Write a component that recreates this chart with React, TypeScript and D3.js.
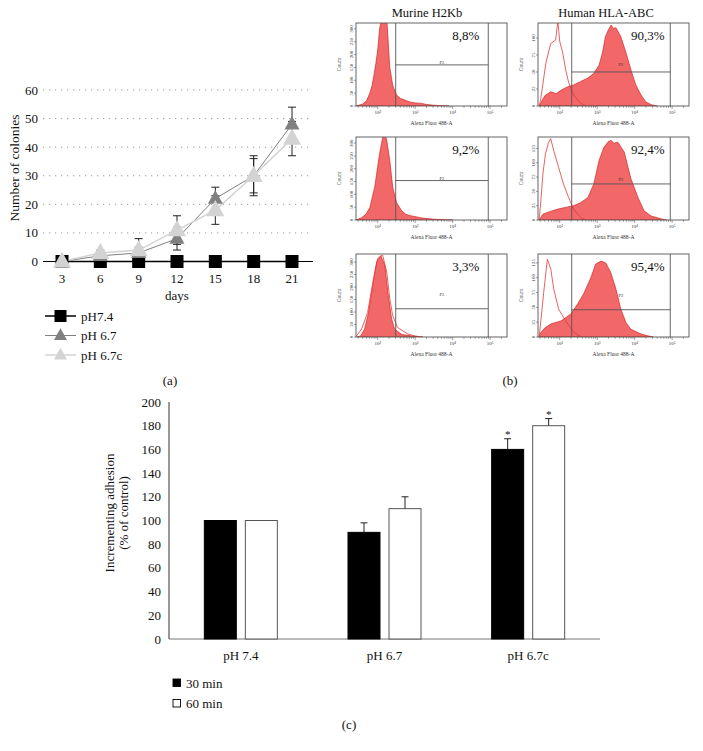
import React from "react";
import * as d3 from "d3";

// ---------- Panel (a) data ----------
const days = ["3", "6", "9", "12", "15", "18", "21"];
const ph74 = [0, 0, 0, 0, 0, 0, 0];
const ph67 = [0, 2, 3, 8, 22, 30, 48];
const ph67Err = [0, 1, 2, 4, 4, 6, 6];
const ph67c = [0, 3, 4, 11, 18, 30, 43];
const ph67cErr = [0, 1, 4, 5, 5, 7, 6];
const colonyTicks = [0, 10, 20, 30, 40, 50, 60];
const legendA = ["pH7.4", "pH 6.7", "pH 6.7c"];

// ---------- Panel (b) data: [log10 fluorescence, count] ----------
const murine1: [number, number][] = [[1.42,0],[1.5,3],[1.6,8],[1.7,20],[1.79,50],[1.85,80],[1.9,120],[1.95,165],[2.0,218],[2.05,300],[2.1,340],[2.15,345],[2.2,340],[2.25,320],[2.32,152],[2.4,80],[2.5,43],[2.6,30],[2.72,23],[2.85,16],[3.0,12],[3.17,10],[3.3,6],[3.5,3],[3.7,1],[3.9,0]];
const murine2: [number, number][] = [[1.42,0],[1.57,9],[1.7,25],[1.79,49],[1.92,128],[2.05,260],[2.13,320],[2.18,340],[2.24,312],[2.32,233],[2.4,128],[2.5,68],[2.64,36],[2.75,22],[2.9,16],[3.17,8],[3.5,3],[3.8,1],[4.0,0]];
const murine3: [number, number][] = [[1.45,0],[1.55,5],[1.65,32],[1.75,95],[1.84,180],[1.97,300],[2.08,325],[2.19,287],[2.27,180],[2.37,73],[2.45,32],[2.64,10],[2.97,3],[3.2,0]];
const murine3b: [number, number][] = [[1.42,2],[1.57,32],[1.73,98],[1.87,220],[2.0,315],[2.13,328],[2.24,260],[2.32,154],[2.4,85],[2.53,38],[2.8,12],[3.0,4],[3.2,0]];
const human1: [number, number][] = [[1.45,0],[1.49,4],[1.6,15],[1.76,21],[1.9,18],[2.03,23],[2.2,28],[2.37,31],[2.56,36],[2.75,41],[2.91,48],[3.05,60],[3.14,78],[3.22,102],[3.3,112],[3.37,119],[3.43,114],[3.5,115],[3.63,102],[3.77,78],[3.9,53],[4.03,31],[4.17,16],[4.3,6],[4.44,2],[4.6,0]];
const human1u: [number, number][] = [[1.45,0],[1.49,9],[1.63,63],[1.76,92],[1.89,97],[1.95,125],[2.0,95],[2.08,78],[2.16,53],[2.24,34],[2.37,16],[2.56,4],[2.7,0]];
const human2: [number, number][] = [[1.45,0],[1.55,10],[1.75,15],[1.95,19],[2.15,22],[2.37,25],[2.55,30],[2.75,39],[2.91,63],[3.05,104],[3.18,127],[3.3,137],[3.37,139],[3.45,134],[3.55,136],[3.72,119],[3.9,72],[4.09,39],[4.25,16],[4.44,7],[4.7,2],[4.85,0]];
const human2u: [number, number][] = [[1.45,0],[1.49,28],[1.55,80],[1.62,116],[1.7,135],[1.76,142],[1.84,121],[1.97,92],[2.1,63],[2.24,39],[2.37,19],[2.56,4],[2.7,0]];
const human3: [number, number][] = [[1.45,0],[1.49,7],[1.6,15],[1.76,22],[2.03,27],[2.3,39],[2.48,56],[2.64,73],[2.83,100],[2.96,123],[3.1,128],[3.23,125],[3.36,109],[3.5,81],[3.63,47],[3.77,24],[3.9,13],[4.17,5],[4.35,2],[4.5,0]];
const human3u: [number, number][] = [[1.45,0],[1.5,30],[1.57,74],[1.67,131],[1.76,115],[1.84,81],[1.97,47],[2.16,27],[2.35,10],[2.48,3],[2.6,0]];

const murineFilled = [murine1, murine2, murine3];
const murineOutline = [null, null, murine3b];
const humanFilled = [human1, human2, human3];
const humanOutline = [human1u, human2u, human3u];
const murinePct = ["8,8%", "9,2%", "3,3%"];
const humanPct = ["90,3%", "92,4%", "95,4%"];
const murineMax = [323, 324, 332];
const humanMax = [122, 145, 140];
const murineGate = [160, 154, 113];
const humanGate = [50, 63, 46];
const murineP2 = [160, 154, 160];
const humanP2 = [57, 67, 66];
const murineGateLeft = 2.48;
const humanGateLeft = 2.32;
const gateRight = 4.95;
const murineTicks = [0, 50, 100, 150, 200, 250, 300];
const humanTicks = [0, 25, 50, 75, 100, 125];
const logDomain = [1.42, 5.45];
const decadeLabels = ["10²", "10³", "10⁴", "10⁵"];
const decades = [2, 3, 4, 5];

// ---------- Panel (c) data ----------
const adhesionGroups = ["pH 7.4", "pH 6.7", "pH 6.7c"];
const adhesion30 = [100, 90, 160];
const adhesion30Err = [0, 8, 9];
const adhesion60 = [100, 110, 180];
const adhesion60Err = [0, 10, 6];
const adhesionSig = [false, false, true];
const adhesionTicks = [0, 20, 40, 60, 80, 100, 120, 140, 160, 180, 200];
const legendC = ["30 min", "60 min"];

const FONT = "Liberation Serif, Times New Roman, Tinos, Times, serif";

function tri(cx: number, cy: number, s: number) {
  const h = s * 0.9;
  return `M${cx},${cy - h * 0.62} L${cx + s / 2},${cy + h * 0.38} L${cx - s / 2},${cy + h * 0.38} Z`;
}

function Facs(props: {
  id: string; x0: number; y0: number; w: number; h: number;
  filled: [number, number][]; outline: [number, number][] | null;
  yMax: number; ticks: number[]; gateLeft: number; gateCount: number;
  p2Count: number; pct: string;
}) {
  const { id, x0, y0, w, h, filled, outline, yMax, ticks, gateLeft, gateCount, p2Count, pct } = props;
  const xs = d3.scaleLinear().domain(logDomain).range([x0, x0 + w]);
  const ys = d3.scaleLinear().domain([0, yMax]).range([y0 + h, y0]);
  const area = d3.area<[number, number]>().x(d => xs(d[0])).y0(y0 + h).y1(d => ys(d[1]));
  const line = d3.line<[number, number]>().x(d => xs(d[0])).y(d => ys(d[1]));
  const minor: { v: number; major: boolean }[] = [];
  for (let d = 1; d <= 5; d++) {
    for (let m = 1; m <= 9; m++) {
      const v = d + Math.log10(m);
      if (v >= logDomain[0] && v <= logDomain[1]) minor.push({ v, major: m === 1 });
    }
  }
  return (
    <g>
      <defs>
        <clipPath id={id}><rect x={x0} y={y0} width={w} height={h} /></clipPath>
      </defs>
      <g clipPath={`url(#${id})`}>
        <path d={area(filled) || ""} fill="#f26868" stroke="#d42424" strokeWidth={0.7} />
        {outline && <path d={line(outline) || ""} fill="none" stroke="#e23a3a" strokeWidth={0.8} />}
      </g>
      <rect x={x0} y={y0} width={w} height={h} fill="none" stroke="#555" strokeWidth={0.9} />
      <line x1={xs(gateLeft)} x2={xs(gateLeft)} y1={y0} y2={y0 + h} stroke="#555" strokeWidth={0.9} />
      <line x1={xs(gateRight)} x2={xs(gateRight)} y1={y0} y2={y0 + h} stroke="#555" strokeWidth={0.9} />
      <line x1={xs(gateLeft)} x2={xs(gateRight)} y1={ys(gateCount)} y2={ys(gateCount)} stroke="#555" strokeWidth={0.9} />
      <text x={(xs(gateLeft) + xs(gateRight)) / 2} y={ys(p2Count) - 1} fontSize={4.5} textAnchor="middle" fill="#333">P2</text>
      <text x={xs(4.35)} y={y0 + 17} fontSize={13} textAnchor="middle" fill="#111">{pct}</text>
      {minor.map((t, i) => (
        <line key={i} x1={xs(t.v)} x2={xs(t.v)} y1={y0 + h} y2={y0 + h + (t.major ? 3 : 1.8)} stroke="#444" strokeWidth={0.5} />
      ))}
      {decades.map((d, i) => (
        <text key={d} x={xs(d)} y={y0 + h + 8} fontSize={5} textAnchor="middle" fill="#333">{decadeLabels[i]}</text>
      ))}
      {ticks.filter(t => t <= yMax).map(t => (
        <g key={t}>
          <line x1={x0 - 2} x2={x0} y1={ys(t)} y2={ys(t)} stroke="#444" strokeWidth={0.5} />
          <text transform={`translate(${x0 - 3},${ys(t)}) rotate(-90)`} fontSize={5} textAnchor="middle" fill="#333">{t}</text>
        </g>
      ))}
      <text transform={`translate(${x0 - 15},${y0 + h / 2}) rotate(-90)`} fontSize={5.5} textAnchor="middle" fill="#333">Count</text>
      <text x={x0 + w / 2} y={y0 + h + 19} fontSize={5.5} textAnchor="middle" fill="#333">Alexa Fluor 488-A</text>
    </g>
  );
}

export default function App() {
  // Panel (a)
  const xa = d3.scalePoint<string>().domain(days).range([62, 292]);
  const ya = d3.scaleLinear().domain([0, 60]).range([261.5, 90]);
  const lineA = d3.line<number>().x((_, i) => xa(days[i]) as number).y(d => ya(d));
  const seriesA = [
    { name: legendA[0], vals: ph74, err: null as number[] | null, color: "#000", lw: 1.5, marker: "sq", size: 13 },
    { name: legendA[1], vals: ph67, err: ph67Err, color: "#808080", lw: 1, marker: "tri", size: 15 },
    { name: legendA[2], vals: ph67c, err: ph67cErr, color: "#d3d3d3", lw: 1.5, marker: "tri", size: 18 },
  ];

  // Panel (c)
  const xc = d3.scaleBand<string>().domain(adhesionGroups).range([169, 600]);
  const yc = d3.scaleLinear().domain([0, 200]).range([639, 402]);
  const inner = d3.scaleBand<string>().domain(legendC).range([-36.5, 36.5]).paddingInner(0.22);
  const barSeries = [
    { key: legendC[0], vals: adhesion30, err: adhesion30Err, fill: "#000", stroke: "#000" },
    { key: legendC[1], vals: adhesion60, err: adhesion60Err, fill: "#fff", stroke: "#555" },
  ];

  const colX = [356, 538];
  const rowY = [23, 137, 254];
  const boxW = 151;
  const boxH = 83;

  return (
    <svg width={703} height={751} style={{ position: "absolute", left: 0, top: 0, background: "#fff", fontFamily: FONT }}>
      <rect width={703} height={751} fill="#fff" />
      {/* ---------- Panel (a) ---------- */}
      {colonyTicks.map(t => (
        <g key={t}>
          {t > 0 && <line x1={43} x2={311} y1={ya(t)} y2={ya(t)} stroke="#9a9a9a" strokeWidth={1} strokeDasharray="1.2,4.8" />}
          <text x={38} y={ya(t) + 4.5} fontSize={13} textAnchor="end" fill="#111">{t}</text>
        </g>
      ))}
      <line x1={43} x2={313} y1={ya(0)} y2={ya(0)} stroke="#000" strokeWidth={1.2} />
      {days.map(d => (
        <text key={d} x={xa(d)} y={283} fontSize={13} textAnchor="middle" fill="#111">{d}</text>
      ))}
      <text x={177} y={300} fontSize={13} textAnchor="middle" fill="#111">days</text>
      <text transform="translate(19,168) rotate(-90)" fontSize={13.5} textAnchor="middle" fill="#111">Number of colonies</text>
      {seriesA.map(s => (
        <g key={s.name}>
          <path d={lineA(s.vals) || ""} fill="none" stroke={s.color} strokeWidth={s.lw} />
        </g>
      ))}
      {seriesA.map(s => s.err && (
        <g key={s.name + "e"}>
          {s.vals.map((v, i) => s.err![i] > 0 && (
            <g key={i} stroke="#222" strokeWidth={1}>
              <line x1={xa(days[i])} x2={xa(days[i])} y1={ya(v + s.err![i])} y2={ya(v - s.err![i])} />
              <line x1={(xa(days[i]) as number) - 4} x2={(xa(days[i]) as number) + 4} y1={ya(v + s.err![i])} y2={ya(v + s.err![i])} />
              <line x1={(xa(days[i]) as number) - 4} x2={(xa(days[i]) as number) + 4} y1={ya(v - s.err![i])} y2={ya(v - s.err![i])} />
            </g>
          ))}
        </g>
      ))}
      {seriesA.map(s => (
        <g key={s.name + "m"}>
          {s.vals.map((v, i) => {
            const cx = xa(days[i]) as number;
            const cy = ya(v);
            return s.marker === "sq"
              ? <rect key={i} x={cx - s.size / 2} y={cy - s.size / 2} width={s.size} height={s.size} fill={s.color} />
              : <path key={i} d={tri(cx, cy, s.size)} fill={s.color} />;
          })}
        </g>
      ))}
      {seriesA.map((s, i) => {
        const ly = 316 + i * 19.5;
        return (
          <g key={s.name + "l"}>
            <line x1={45} x2={76} y1={ly} y2={ly} stroke={s.color} strokeWidth={s.lw} />
            {s.marker === "sq"
              ? <rect x={60.5 - 6} y={ly - 6} width={12} height={12} fill={s.color} />
              : <path d={tri(60.5, ly, 13)} fill={s.color} />}
            <text x={81} y={ly + 4.5} fontSize={13} fill="#111">{s.name}</text>
          </g>
        );
      })}
      <text x={170} y={385} fontSize={13} textAnchor="middle" fill="#111">(a)</text>

      {/* ---------- Panel (b) ---------- */}
      <text x={427} y={17} fontSize={12.5} textAnchor="middle" fill="#111">Murine H2Kb</text>
      <text x={606} y={17} fontSize={12.5} textAnchor="middle" fill="#111">Human HLA-ABC</text>
      {rowY.map((ry, r) => (
        <g key={r}>
          <Facs id={`m${r}`} x0={colX[0]} y0={ry} w={boxW} h={boxH} filled={murineFilled[r]} outline={murineOutline[r]}
            yMax={murineMax[r]} ticks={murineTicks} gateLeft={murineGateLeft} gateCount={murineGate[r]} p2Count={murineP2[r]} pct={murinePct[r]} />
          <Facs id={`h${r}`} x0={colX[1]} y0={ry} w={boxW} h={boxH} filled={humanFilled[r]} outline={humanOutline[r]}
            yMax={humanMax[r]} ticks={humanTicks} gateLeft={humanGateLeft} gateCount={humanGate[r]} p2Count={humanP2[r]} pct={humanPct[r]} />
        </g>
      ))}
      <text x={510} y={385} fontSize={13} textAnchor="middle" fill="#111">(b)</text>

      {/* ---------- Panel (c) ---------- */}
      {adhesionTicks.map(t => (
        <text key={t} x={161} y={yc(t) + 4.5} fontSize={13} textAnchor="end" fill="#111">{t}</text>
      ))}
      <line x1={169} x2={169} y1={yc(200)} y2={yc(0)} stroke="#333" strokeWidth={1} />
      <line x1={169} x2={600} y1={yc(0)} y2={yc(0)} stroke="#777" strokeWidth={1} />
      {adhesionGroups.map((g, gi) => {
        const center = (xc(g) as number) + xc.bandwidth() / 2;
        return (
          <g key={g}>
            {barSeries.map(s => {
              const bx = center + (inner(s.key) as number);
              const bw = inner.bandwidth();
              const v = s.vals[gi];
              const e = s.err[gi];
              return (
                <g key={s.key}>
                  <rect x={bx} y={yc(v)} width={bw} height={yc(0) - yc(v)} fill={s.fill} stroke={s.stroke} strokeWidth={1} />
                  {e > 0 && (
                    <g stroke="#222" strokeWidth={1}>
                      <line x1={bx + bw / 2} x2={bx + bw / 2} y1={yc(v)} y2={yc(v + e)} />
                      <line x1={bx + bw / 2 - 3.5} x2={bx + bw / 2 + 3.5} y1={yc(v + e)} y2={yc(v + e)} />
                    </g>
                  )}
                  {adhesionSig[gi] && (
                    <text x={bx + bw / 2} y={yc(v + e) - 1} fontSize={11} textAnchor="middle" fill="#111">*</text>
                  )}
                </g>
              );
            })}
            <text x={center} y={660} fontSize={13} textAnchor="middle" fill="#111">{g}</text>
          </g>
        );
      })}
      <text transform="translate(114,513) rotate(-90)" fontSize={13} textAnchor="middle" fill="#111">Incrementing adhesion</text>
      <text transform="translate(128,513) rotate(-90)" fontSize={13} textAnchor="middle" fill="#111">(% of control)</text>
      {barSeries.map((s, i) => (
        <g key={s.key + "lg"}>
          <rect x={173} y={679 + i * 20.5} width={7.5} height={7.5} fill={s.fill} stroke="#000" strokeWidth={0.9} />
          <text x={186} y={687.5 + i * 20.5} fontSize={13} fill="#111">{s.key}</text>
        </g>
      ))}
      <text x={349} y={729} fontSize={13} textAnchor="middle" fill="#111">(c)</text>
    </svg>
  );
}
